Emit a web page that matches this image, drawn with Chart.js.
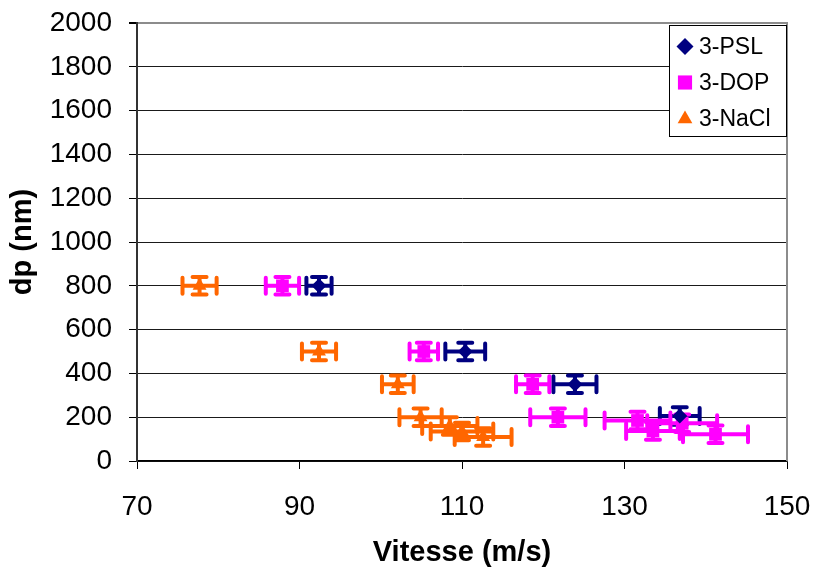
<!DOCTYPE html>
<html>
<head>
<meta charset="utf-8">
<script src="https://cdn.jsdelivr.net/npm/chart.js@4.4.1/dist/chart.umd.min.js"></script>
<style>
    html, body { margin: 0; padding: 0; background: #fff; }
</style>
</head>
<body>
<canvas id="chart" width="814" height="573"></canvas>
<script>
// series: speed (m/s) vs particle size dp (nm), with horizontal error on speed
const seriesLabels = ['3-PSL', '3-DOP', '3-NaCl'];

const pslSpeed    = [92.4, 110.4, 123.9, 136.8];
const pslSize     = [800, 500, 350, 205];
const pslSpeedErr = [1.55, 2.45, 2.65, 2.45];

const dopSpeed    = [87.9, 105.3, 118.7, 121.8, 131.6, 133.5, 137.1, 141.2];
const dopSize     = [800, 500, 350, 200, 185, 137, 172, 122];
const dopSpeedErr = [2.05, 1.75, 2.05, 3.4, 4.05, 3.3, 4.3, 4.0];

const naclSpeed    = [77.7, 92.4, 102.1, 104.9, 108.5, 110.0, 112.6];
const naclSize     = [800, 500, 350, 200, 160, 135, 110];
const naclSpeedErr = [2.1, 2.1, 1.95, 2.6, 3.4, 3.85, 3.5];

const sizeErr = 40;

const xTicks = [70, 90, 110, 130, 150];
const yTicks = [0, 200, 400, 600, 800, 1000, 1200, 1400, 1600, 1800, 2000];

const colors = ['#000080', '#FF00FF', '#FF6600'];
const styles = ['rectRot', 'rect', 'triangle'];
const radii  = [7.5, 9, 8];

const FONT = '"Liberation Sans", Arial, Helvetica, sans-serif';

function toPoints(xs, ys, errs) {
    return xs.map(function (x, i) { return { x: x, y: ys[i], xErr: errs[i], yErr: sizeErr }; });
}

const datasets = [
    toPoints(pslSpeed, pslSize, pslSpeedErr),
    toPoints(dopSpeed, dopSize, dopSpeedErr),
    toPoints(naclSpeed, naclSize, naclSpeedErr)
].map(function (pts, i) {
    return {
        label: seriesLabels[i],
        data: pts,
        pointStyle: styles[i],
        pointRadius: radii[i],
        pointHoverRadius: radii[i],
        backgroundColor: colors[i],
        borderColor: colors[i],
        borderWidth: 0,
        showLine: false
    };
});

const errorBars = {
    id: 'errorBars',
    beforeDatasetsDraw(chart) {
        const ctx = chart.ctx;
        const xs = chart.scales.x, ys = chart.scales.y;
        ctx.save();
        ctx.lineWidth = 4;
        ctx.lineCap = 'round';
        chart.data.datasets.forEach(function (ds) {
            ctx.strokeStyle = ds.borderColor;
            ds.data.forEach(function (p) {
                const cx = xs.getPixelForValue(p.x), cy = ys.getPixelForValue(p.y);
                const x0 = xs.getPixelForValue(p.x - p.xErr), x1 = xs.getPixelForValue(p.x + p.xErr);
                const y0 = ys.getPixelForValue(p.y - p.yErr), y1 = ys.getPixelForValue(p.y + p.yErr);
                ctx.beginPath();
                ctx.moveTo(x0, cy); ctx.lineTo(x1, cy);
                ctx.moveTo(x0, cy - 8); ctx.lineTo(x0, cy + 8);
                ctx.moveTo(x1, cy - 8); ctx.lineTo(x1, cy + 8);
                ctx.moveTo(cx, y0); ctx.lineTo(cx, y1);
                ctx.moveTo(cx - 7, y0); ctx.lineTo(cx + 7, y0);
                ctx.moveTo(cx - 7, y1); ctx.lineTo(cx + 7, y1);
                ctx.stroke();
            });
        });
        ctx.restore();
    }
};

const frameAndLegend = {
    id: 'frameAndLegend',
    afterDraw(chart) {
        const ctx = chart.ctx;
        const a = chart.chartArea;
        ctx.save();
        ctx.strokeStyle = '#8c8c8c';
        ctx.lineWidth = 2;
        ctx.beginPath();
        ctx.moveTo(a.right, a.top - 1);
        ctx.lineTo(a.right, a.bottom);
        ctx.stroke();

        // legend box sits inside the plot, top right
        const bx = 669.5, by = 25.5, bw = 117, bh = 111;
        ctx.fillStyle = '#fff';
        ctx.fillRect(bx, by, bw, bh);
        ctx.strokeStyle = '#000';
        ctx.lineWidth = 1;
        ctx.strokeRect(bx, by, bw, bh);
        ctx.font = '23px ' + FONT;
        ctx.textBaseline = 'middle';
        ctx.textAlign = 'left';
        const rowY = [46.5, 82.5, 119];
        chart.data.datasets.forEach(function (ds, i) {
            ctx.fillStyle = ds.backgroundColor;
            ctx.strokeStyle = ds.borderColor;
            Chart.helpers.drawPoint(ctx, {
                pointStyle: ds.pointStyle,
                radius: i === 1 ? 10 : 8.5,
                rotation: 0,
                borderWidth: 0
            }, 685, rowY[i]);
            ctx.fillStyle = '#000';
            ctx.fillText(ds.label, 699, rowY[i] + 1);
        });
        ctx.restore();
    }
};

new Chart(document.getElementById('chart'), {
    type: 'scatter',
    data: { datasets: datasets },
    options: {
        responsive: false,
        animation: false,
        devicePixelRatio: 1,
        layout: { padding: { top: 23, right: 27, left: 0, bottom: 0 } },
        plugins: {
            legend: { display: false },
            tooltip: { enabled: false }
        },
        scales: {
            x: {
                type: 'linear',
                min: xTicks[0],
                max: xTicks[xTicks.length - 1],
                afterBuildTicks: function (s) { s.ticks = xTicks.map(function (v) { return { value: v }; }); },
                afterFit: function (s) { s.height = 112; s.paddingLeft = 0; s.paddingRight = 0; },
                ticks: { color: '#000', font: { family: FONT, size: 28 }, padding: 21, maxRotation: 0,
                         callback: function (v) { return String(v); } },
                grid: { drawOnChartArea: false, drawTicks: true, tickLength: 8, color: '#000', tickColor: '#000' },
                border: { color: '#000', width: 1.5 },
                title: {
                    display: true,
                    text: 'Vitesse (m/s)',
                    color: '#000',
                    font: { family: FONT, size: 29, weight: 'bold' },
                    padding: { top: 0, bottom: 3 }
                }
            },
            y: {
                type: 'linear',
                min: yTicks[0],
                max: yTicks[yTicks.length - 1],
                afterBuildTicks: function (s) { s.ticks = yTicks.map(function (v) { return { value: v }; }); },
                afterFit: function (s) { s.width = 137; s.paddingTop = 0; s.paddingBottom = 0; },
                ticks: { color: '#000', font: { family: FONT, size: 28 }, padding: 17,
                         callback: function (v) { return String(v); } },
                grid: {
                    color: function (c) { return c.tick && c.tick.value === 2000 ? '#8c8c8c' : '#1a1a1a'; },
                    lineWidth: function (c) { return c.tick && c.tick.value === 2000 ? 2 : 1; },
                    tickColor: '#000',
                    tickLength: 8
                },
                border: { color: '#333', width: 2 },
                title: {
                    display: true,
                    text: 'dp (nm)',
                    color: '#000',
                    font: { family: FONT, size: 29, weight: 'bold' },
                    padding: { top: 6, bottom: 0 }
                }
            }
        }
    },
    plugins: [errorBars, frameAndLegend]
});
</script>
</body>
</html>
